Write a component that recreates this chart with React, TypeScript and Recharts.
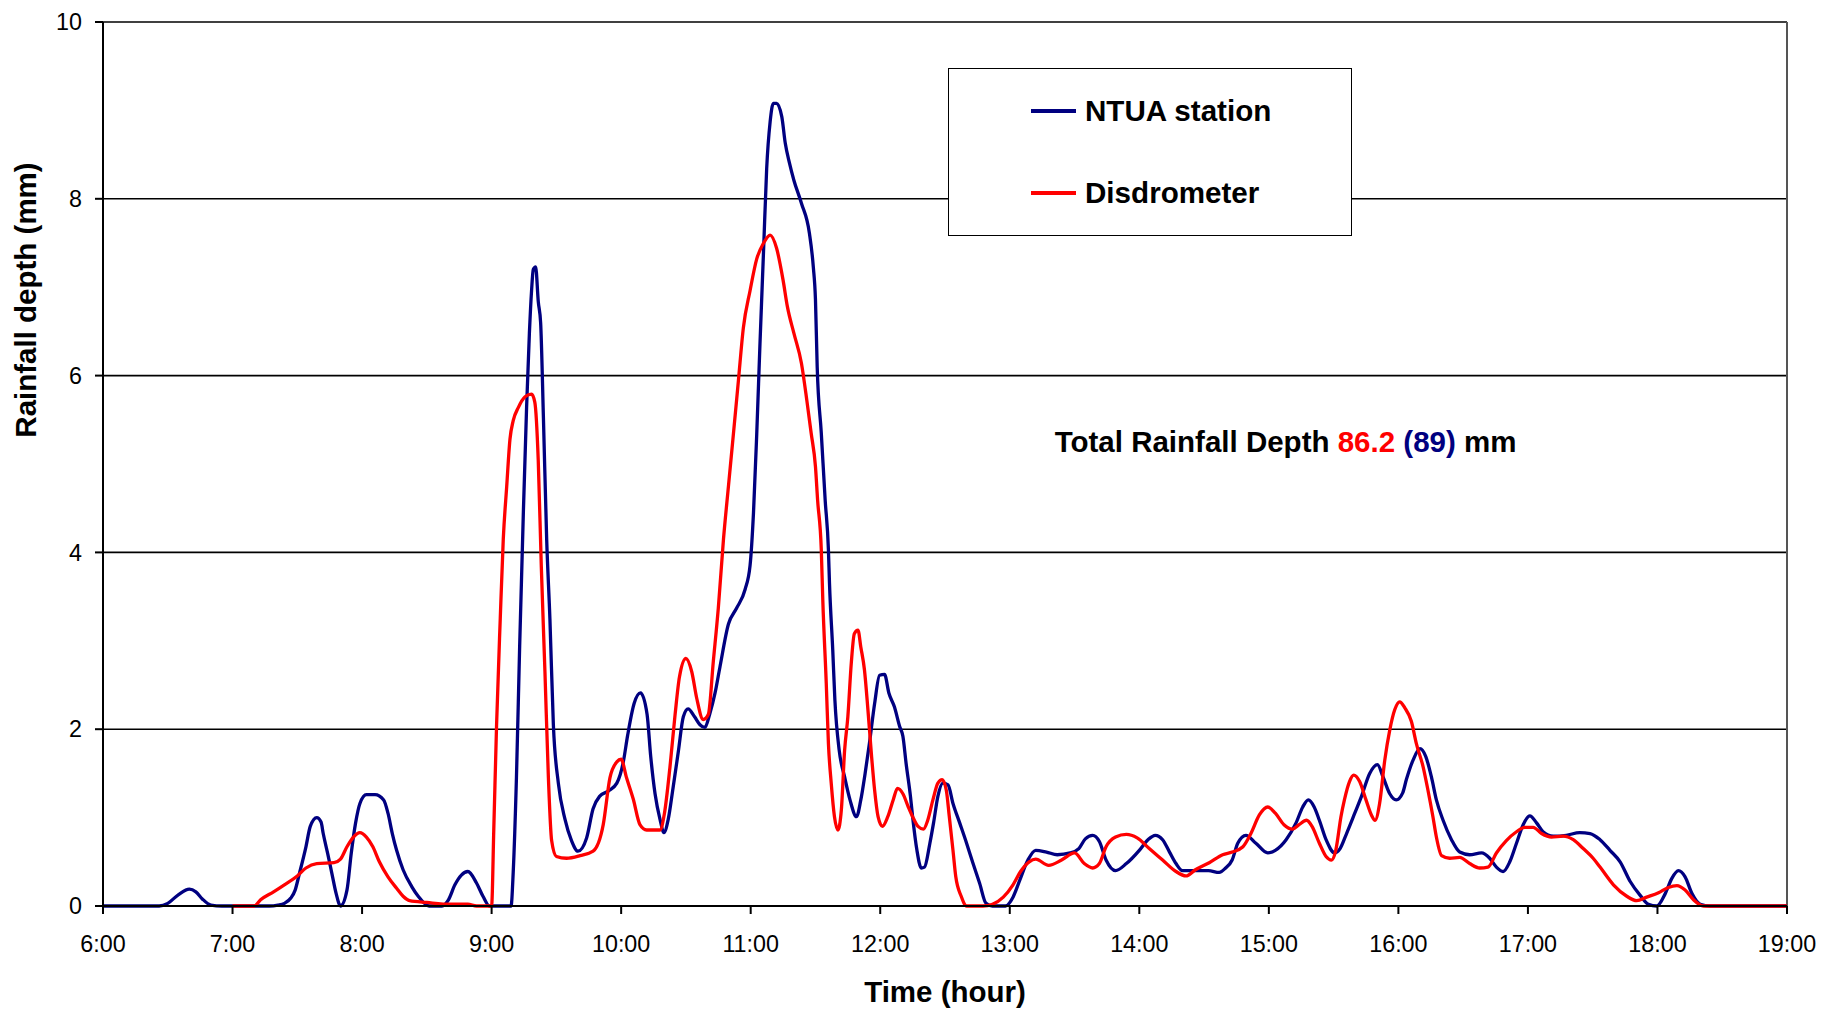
import { LineChart, Line, XAxis, YAxis, CartesianGrid, ReferenceLine, Legend } from 'recharts';

const FONT = '"Liberation Sans", Arial, Helvetica, sans-serif';
const NAVY = '#000080';
const RED = '#ff0000';

// x axis runs in minutes after midnight, 6:00 .. 19:00
const hourTicks = [360, 420, 480, 540, 600, 660, 720, 780, 840, 900, 960, 1020, 1080, 1140];
const depthTicks = [0, 2, 4, 6, 8, 10];
const seriesNames = ['NTUA station', 'Disdrometer'];
const seriesColors = [NAVY, RED];

// NTUA station (rain gauge)
const ntuaMinutes = [
  360, 370, 380, 386, 390, 395, 400, 403, 406, 410, 415, 420, 430, 437, 441, 444, 447, 449, 451, 454,
  456, 459, 461, 462, 464, 466, 468, 470, 473, 475, 477, 479, 482, 486, 490, 492, 494, 496, 499, 503,
  506, 511, 517, 520, 523, 526, 529, 533, 536, 539, 545, 549, 550, 551.5, 553, 554.7, 556.2, 557.5, 558.5, 559.3,
  560.4, 561.6, 562.7, 564, 565.5, 567, 568.6, 570.9, 574, 577, 580, 584, 587, 590, 594, 598, 601, 603, 606, 609,
  612, 613.7, 615.7, 618, 619.8, 621.8, 624, 626.5, 628.8, 631, 634, 636.5, 638.8, 641, 643.5, 645.8, 649.7, 653.5, 657.4, 659.7,
  661.3, 662.8, 664.3, 666, 667.4, 669, 670.5, 672, 674.4, 676, 678, 680, 683.5, 687.2, 689, 690, 690.8, 692.7, 694.5, 696,
  696.5, 698, 699, 701, 703.5, 706, 709, 711, 713, 715, 717.4, 719.7, 722, 724, 726.6, 729, 730.5, 732, 734, 735,
  737, 739, 740.5, 743, 744.7, 746.7, 749, 751.4, 753.7, 756.8, 760, 763, 766, 769, 772, 778, 781.5, 784.6, 788.4, 792,
  797, 802, 808, 812, 815, 818.4, 821.5, 824.6, 829, 834, 840, 844, 847.4, 850.8, 854, 857, 860, 866, 872, 877,
  880, 883, 885.6, 889.4, 894, 899.5, 903, 908, 912.6, 915.7, 918.3, 921, 923.4, 926.5, 930.5, 933, 936, 939.8, 942.9, 946.7,
  950.3, 952.9, 956, 959, 962, 963.7, 966.8, 970, 972.7, 975.3, 977.6, 980.7, 984.6, 988.4, 993, 998.5, 1002.3, 1005.4, 1008.5, 1011.6,
  1014.7, 1017.8, 1020.9, 1024, 1027, 1031.7, 1037.8, 1044, 1048.8, 1053.4, 1058, 1062.7, 1067.3, 1072, 1075.8, 1079.7, 1083.6, 1086.6, 1089.7, 1092.8,
  1096, 1099.8, 1104.4, 1120, 1140,
];
const ntuaDepth = [
  0, 0, 0, 0, 0.03, 0.13, 0.19, 0.16, 0.08, 0.01, 0, 0, 0, 0, 0.01, 0.03, 0.09, 0.18, 0.37, 0.67,
  0.9, 1.0, 0.95, 0.82, 0.6, 0.37, 0.14, 0, 0.18, 0.6, 0.94, 1.16, 1.26, 1.26, 1.2, 1.05, 0.82, 0.63, 0.41, 0.22,
  0.11, 0, 0, 0.07, 0.24, 0.35, 0.39, 0.26, 0.11, 0, 0, 0, 0.38, 1.45, 2.95, 4.45, 5.64, 6.48, 6.96, 7.2,
  7.23, 6.84, 6.6, 5.52, 4.15, 3.25, 2.05, 1.39, 0.98, 0.74, 0.62, 0.77, 1.1, 1.24, 1.3, 1.39, 1.63, 1.93, 2.29, 2.41,
  2.17, 1.69, 1.27, 0.98, 0.83, 0.98, 1.33, 1.75, 2.14, 2.23, 2.14, 2.05, 2.02, 2.17, 2.41, 2.71, 3.19, 3.37, 3.58, 3.85,
  4.45, 5.34, 6.36, 7.44, 8.34, 8.87, 9.08, 9.08, 8.93, 8.63, 8.4, 8.21, 7.95, 7.61, 7.23, 6.86, 6.1, 5.35, 4.59, 4.03,
  3.65, 2.9, 2.33, 1.76, 1.46, 1.2, 1.01, 1.2, 1.5, 1.84, 2.29, 2.61, 2.62, 2.41, 2.25, 2.03, 1.92, 1.61, 1.24, 1.01,
  0.63, 0.43, 0.44, 0.71, 0.94, 1.24, 1.39, 1.37, 1.16, 0.94, 0.71, 0.48, 0.26, 0.03, 0, 0, 0.1, 0.29, 0.52, 0.63,
  0.61, 0.58, 0.6, 0.65, 0.76, 0.8, 0.73, 0.52, 0.4, 0.48, 0.63, 0.75, 0.8, 0.75, 0.61, 0.48, 0.4, 0.4, 0.4, 0.38,
  0.43, 0.52, 0.71, 0.8, 0.71, 0.6, 0.63, 0.75, 0.94, 1.12, 1.2, 1.12, 0.97, 0.75, 0.6, 0.65, 0.82, 1.05, 1.24, 1.5,
  1.6, 1.46, 1.27, 1.2, 1.28, 1.43, 1.65, 1.78, 1.69, 1.46, 1.2, 0.97, 0.75, 0.61, 0.58, 0.6, 0.54, 0.44, 0.39, 0.5,
  0.71, 0.92, 1.02, 0.94, 0.84, 0.79, 0.8, 0.83, 0.82, 0.75, 0.63, 0.5, 0.28, 0.12, 0.02, 0, 0.14, 0.31, 0.4, 0.33,
  0.14, 0.02, 0, 0, 0,
];

// Disdrometer
const disdroMinutes = [
  420, 430, 433, 439, 444, 450, 454, 459, 467, 470, 473, 476, 479, 482, 485, 488, 492, 496, 499, 502,
  510, 521, 529, 533, 539, 540, 541, 542.3, 544, 545.4, 547, 548.5, 550, 552.4, 555.5, 558.5, 560, 561.6, 563, 564.7,
  566.3, 567.8, 570, 574.7, 581, 587, 591.7, 594.8, 598, 600, 602.5, 605.6, 608.7, 611.8, 618, 620, 622.6, 625, 627, 630,
  632.7, 635, 638, 640.4, 642.7, 645, 647.4, 649.7, 652, 654.3, 656.6, 659.7, 662.8, 666, 669, 672, 675, 677, 680, 683.5,
  686, 688, 690, 691, 692.7, 693.4, 695, 696, 697.3, 698.8, 700.4, 702, 703.5, 705, 706.6, 708, 709.7, 711, 712.7, 714.3,
  716, 717.4, 719, 721, 723.5, 726, 728, 730.5, 733, 735, 737.5, 740, 742, 744.4, 746.7, 748.7, 750.6, 752, 753.7, 755,
  757.5, 760, 767.6, 772, 777, 781.5, 785, 789, 792, 798, 804, 810, 814.5, 818.4, 821.5, 824.6, 829, 834, 839, 844.6,
  850.8, 857, 861.6, 866, 872.4, 878.6, 883, 888, 891.7, 895.6, 899.5, 903, 907, 911, 914, 917.5, 920, 923.4, 926.5, 929,
  931, 933.4, 935, 937.4, 939.3, 942, 945, 947.5, 949.2, 951.3, 953.7, 956, 958.3, 960.6, 963, 966, 968.3, 971.4, 973.7, 976,
  977.6, 980, 983.8, 988.4, 993, 997.7, 1001.5, 1005.4, 1010, 1014.7, 1018.5, 1022.4, 1026.3, 1030.9, 1036.3, 1041, 1045.6, 1050.2, 1053.4, 1059.6,
  1065.8, 1070.4, 1075, 1080.5, 1085, 1089, 1092.8, 1096.7, 1101.3, 1140,
];
const disdroDepth = [
  0, 0, 0.07, 0.16, 0.24, 0.34, 0.43, 0.48, 0.49, 0.53, 0.67, 0.78, 0.83, 0.78, 0.67, 0.5, 0.33, 0.2, 0.11, 0.06,
  0.04, 0.02, 0.02, 0, 0, 0, 0.86, 2.05, 3.25, 4.15, 4.75, 5.28, 5.49, 5.64, 5.76, 5.79, 5.7, 5.04, 3.85, 2.65,
  1.45, 0.74, 0.56, 0.54, 0.57, 0.62, 0.92, 1.45, 1.63, 1.66, 1.45, 1.21, 0.92, 0.86, 0.86, 1.04, 1.57, 2.17, 2.59, 2.8,
  2.65, 2.35, 2.11, 2.17, 2.77, 3.37, 4.15, 4.75, 5.34, 5.94, 6.54, 6.96, 7.32, 7.5, 7.59, 7.44, 7.08, 6.78, 6.48, 6.14,
  5.72, 5.35, 4.97, 4.59, 4.03, 3.46, 2.52, 1.84, 1.39, 1.01, 0.86, 1.09, 1.76, 2.14, 2.75, 3.08, 3.12, 2.93, 2.67, 2.22,
  1.69, 1.31, 1.01, 0.9, 1.01, 1.2, 1.33, 1.27, 1.12, 1.01, 0.9, 0.87, 0.97, 1.2, 1.39, 1.43, 1.31, 1.01, 0.63, 0.33,
  0.11, 0, 0, 0.02, 0.1, 0.24, 0.39, 0.5, 0.53, 0.46, 0.52, 0.6, 0.48, 0.43, 0.48, 0.67, 0.78, 0.81, 0.77, 0.65,
  0.52, 0.39, 0.34, 0.41, 0.49, 0.58, 0.61, 0.67, 0.82, 1.03, 1.12, 1.05, 0.92, 0.87, 0.92, 0.97, 0.9, 0.71, 0.56, 0.52,
  0.63, 1.01, 1.2, 1.41, 1.48, 1.41, 1.2, 1.03, 0.97, 1.16, 1.65, 1.99, 2.22, 2.31, 2.24, 2.09, 1.84, 1.58, 1.31, 1.01,
  0.78, 0.57, 0.54, 0.55, 0.48, 0.43, 0.44, 0.6, 0.74, 0.84, 0.89, 0.89, 0.82, 0.78, 0.79, 0.75, 0.65, 0.54, 0.44, 0.24,
  0.11, 0.06, 0.1, 0.15, 0.21, 0.23, 0.18, 0.07, 0, 0,
];

const toSeries = (mins: number[], vals: number[]) => mins.map((t, i) => ({ t, depth: vals[i] }));
const ntuaData = toSeries(ntuaMinutes, ntuaDepth);
const disdroData = toSeries(disdroMinutes, disdroDepth);

// legend keeps the drawing order (gauge first), not alphabetical
function RainLegend(props: any) {
  const payload: any[] = props.payload || [];
  const items = seriesNames.map((name, i) => {
    const hit = payload.find((p) => p.value === name);
    return { value: name, color: (hit && hit.color) || seriesColors[i] };
  });
  return (
    <div
      style={{
        position: 'relative',
        width: 404,
        height: 168,
        boxSizing: 'border-box',
        border: '1.5px solid #000',
        background: '#fff',
        fontFamily: FONT,
      }}
    >
      {items.map((item, i) => (
        <div
          key={item.value}
          style={{
            position: 'absolute',
            left: 81.5,
            top: 43.5 + i * 82 - 18 - 1.5,
            height: 36,
            display: 'flex',
            alignItems: 'center',
            whiteSpace: 'nowrap',
          }}
        >
          <div style={{ width: 45.5, height: 3.5, background: item.color, marginRight: 9 }} />
          <span style={{ fontSize: 29.6, fontWeight: 700, lineHeight: '36px', color: '#000' }}>{item.value}</span>
        </div>
      ))}
    </div>
  );
}

export default function App() {
  return (
    <div style={{ position: 'absolute', left: 0, top: 0, width: 1822, height: 1010, background: '#fff' }}>
      <LineChart width={1822} height={1010} margin={{ top: 22, right: 35, bottom: 0, left: 0 }}>
        <CartesianGrid vertical={false} stroke="#000" strokeWidth={1.6} />
        <XAxis
          dataKey="t"
          type="number"
          domain={[360, 1140]}
          ticks={hourTicks}
          interval={0}
          allowDataOverflow
          height={104}
          tickSize={8}
          tickMargin={21}
          axisLine={{ stroke: '#000', strokeWidth: 2 }}
          tickLine={{ stroke: '#000', strokeWidth: 2 }}
          tick={{ fill: '#000', fontSize: 23.3, fontFamily: FONT }}
          tickFormatter={(m: number) => `${m / 60}:00`}
        />
        <YAxis
          type="number"
          domain={[0, 10]}
          ticks={depthTicks}
          interval={0}
          width={103}
          tickSize={8}
          tickMargin={13}
          axisLine={{ stroke: '#000', strokeWidth: 2 }}
          tickLine={{ stroke: '#000', strokeWidth: 2 }}
          tick={{ fill: '#000', fontSize: 23.3, fontFamily: FONT }}
        />
        <ReferenceLine x={1140} stroke="#555" strokeWidth={2} />
        <Line
          data={ntuaData}
          dataKey="depth"
          name={seriesNames[0]}
          type="monotone"
          stroke={NAVY}
          strokeWidth={3.3}
          dot={false}
          activeDot={false}
          isAnimationActive={false}
        />
        <Line
          data={disdroData}
          dataKey="depth"
          name={seriesNames[1]}
          type="monotone"
          stroke={RED}
          strokeWidth={3.3}
          dot={false}
          activeDot={false}
          isAnimationActive={false}
        />
        <Legend
          layout="vertical"
          align="center"
          verticalAlign="middle"
          content={RainLegend}
          wrapperStyle={{ left: 948, top: 68, width: 404, height: 168 }}
        />
      </LineChart>
      <svg
        width={1822}
        height={1010}
        style={{ position: 'absolute', left: 0, top: 0, pointerEvents: 'none' }}
        fontFamily={FONT}
        fontWeight={700}
        fontSize={29.5}
      >
        <text transform="translate(36,300) rotate(-90)" textAnchor="middle" fill="#000">
          Rainfall depth (mm)
        </text>
        <text x={945} y={1001.5} textAnchor="middle" fill="#000">
          Time (hour)
        </text>
        <text x={1054.7} y={452} fill="#000">
          <tspan>{'Total Rainfall Depth '}</tspan>
          <tspan fill={RED}>{'86.2'}</tspan>
          <tspan fill={NAVY}>{' (89)'}</tspan>
          <tspan>{' mm'}</tspan>
        </text>
      </svg>
    </div>
  );
}
